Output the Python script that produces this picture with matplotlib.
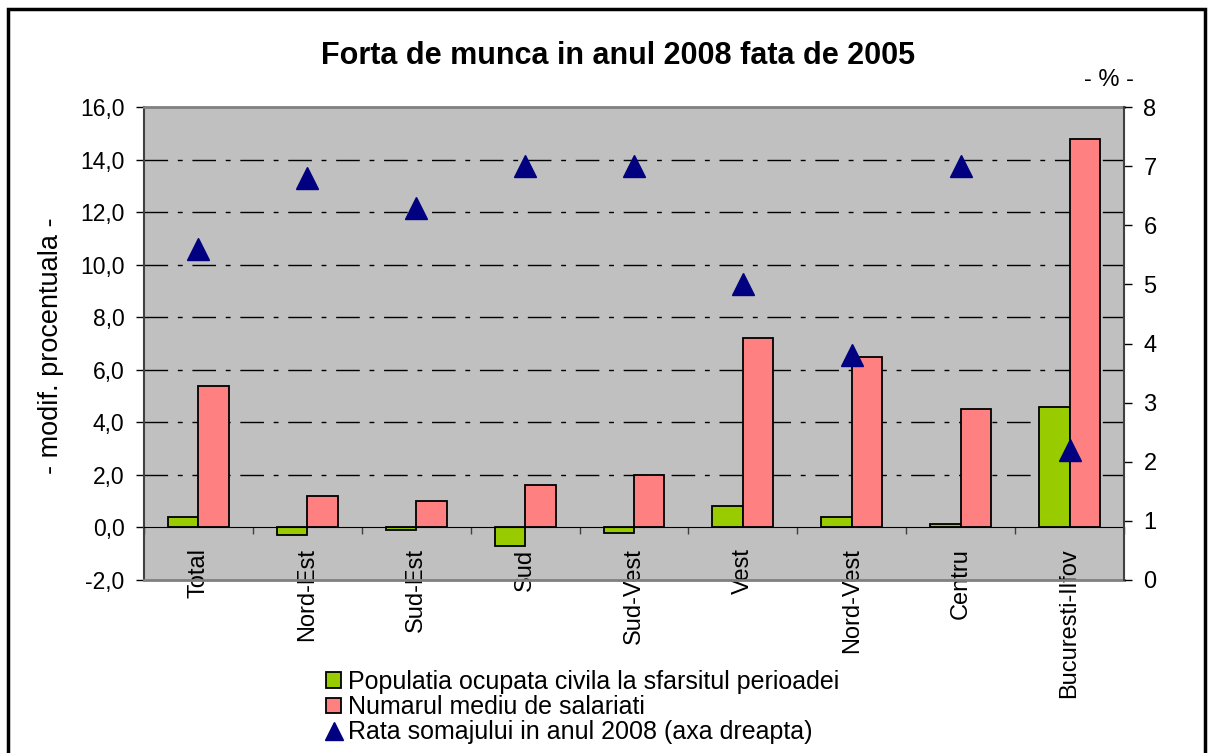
import numpy as np
import matplotlib
matplotlib.use('Agg')
import matplotlib.pyplot as plt
from matplotlib.patches import Patch, Rectangle
from matplotlib.lines import Line2D
from matplotlib.ticker import FuncFormatter

plt.rcParams['font.family'] = ['Liberation Sans', 'DejaVu Sans']

# data
regions = ['Total', 'Nord-Est', 'Sud-Est', 'Sud', 'Sud-Vest', 'Vest',
           'Nord-Vest', 'Centru', 'Bucuresti-Ilfov']
populatia = [0.4, -0.3, -0.1, -0.7, -0.2, 0.8, 0.4, 0.15, 4.6]
salariati = [5.4, 1.2, 1.0, 1.6, 2.0, 7.2, 6.5, 4.5, 14.8]
somaj = [5.6, 6.8, 6.3, 7.0, 7.0, 5.0, 3.8, 7.0, 2.2]

green = '#99CC00'
pink = '#FF8080'
navy = '#000080'

W, H = 1213, 753
fig = plt.figure(figsize=(W / 100, H / 100), dpi=100)

# plot area in pixels: left 144, right 1124, top 107, bottom 580
ax = fig.add_axes([144 / W, (H - 580) / H, 980 / W, 473 / H])
ax.set_facecolor('#C0C0C0')

x = np.arange(len(regions))
bw = 0.28
ax.bar(x - bw / 2, populatia, bw, color=green, edgecolor='black', linewidth=1.3, zorder=3)
ax.bar(x + bw / 2, salariati, bw, color=pink, edgecolor='black', linewidth=1.3, zorder=3)

ax.set_xlim(-0.5, len(regions) - 0.5)
ax.set_ylim(-2, 16)
ax.set_yticks(np.arange(-2, 16.1, 2))
ax.yaxis.set_major_formatter(FuncFormatter(lambda v, p: ('%.1f' % v).replace('.', ',')))
ax.tick_params(axis='y', direction='out', length=6, width=1, labelsize=16.5, pad=8)

# gridlines, dash-dot
for gy in np.arange(2, 15, 2):
    ax.axhline(gy, color='black', linewidth=1, linestyle=(0, (17, 7, 3.5, 7)), zorder=1)

# category axis at zero
ax.spines['bottom'].set_position(('data', 0))
ax.spines['bottom'].set_color('black')
ax.spines['bottom'].set_zorder(4)
ax.set_xticks(np.arange(-0.5, len(regions), 1))
ax.set_xticklabels([])
ax.tick_params(axis='x', direction='out', length=5, width=1, color='#404040')
ax.axhline(-2, color='#808080', linewidth=2, clip_on=False, zorder=5)
ax.spines['top'].set_color('#808080')
ax.spines['top'].set_linewidth(2)
ax.spines['left'].set_color('#404040')
ax.spines['left'].set_linewidth(1.5)
ax.spines['right'].set_visible(False)

for i, r in enumerate(regions):
    ax.text(i, -0.8, r, rotation=90, ha='center', va='top', fontsize=17)

ax.set_ylabel('- modif. procentuala -', fontsize=19.5)
ax.yaxis.set_label_coords(-0.082, 0.495)

ax2 = ax.twinx()
ax2.plot(x, somaj, linestyle='none', marker='^', markersize=16, color=navy, zorder=6)
ax2.set_ylim(0, 8)
ax2.set_yticks(np.arange(0, 9, 1))
ax2.tick_params(axis='y', direction='out', length=6, width=1, labelsize=17, pad=8)
for s in ['top', 'bottom', 'left']:
    ax2.spines[s].set_visible(False)
ax2.spines['right'].set_color('#404040')
ax2.spines['right'].set_linewidth(1.5)

fig.text(1109 / W, 1 - 80 / H, '- % -', ha='center', va='center', fontsize=17)
fig.text(618 / W, 1 - 56 / H, 'Forta de munca in anul 2008 fata de 2005',
         ha='center', va='center', fontsize=22, fontweight='bold')

handles = [Patch(facecolor=green, edgecolor='black', linewidth=1.3),
           Patch(facecolor=pink, edgecolor='black', linewidth=1.3),
           Line2D([], [], linestyle='none', marker='^', markersize=13, color=navy)]
labels = ['Populatia ocupata civila la sfarsitul perioadei',
          'Numarul mediu de salariati',
          'Rata somajului in anul 2008 (axa dreapta)']
fig.legend(handles, labels, loc='upper left', bbox_to_anchor=(326 / W, 1 - 670 / H),
           frameon=False, fontsize=18, handlelength=0.6, handleheight=0.6,
           handletextpad=0.3, labelspacing=0.05, borderpad=0, borderaxespad=0)

# outer frame (open at the bottom edge of the image)
fig.patches.append(Rectangle((8 / W, -0.02), (1205 - 8) / W, 1.02 - 9 / H, transform=fig.transFigure,
                             fill=False, edgecolor='black', linewidth=2.5))

fig.savefig('out.png', dpi=100)
